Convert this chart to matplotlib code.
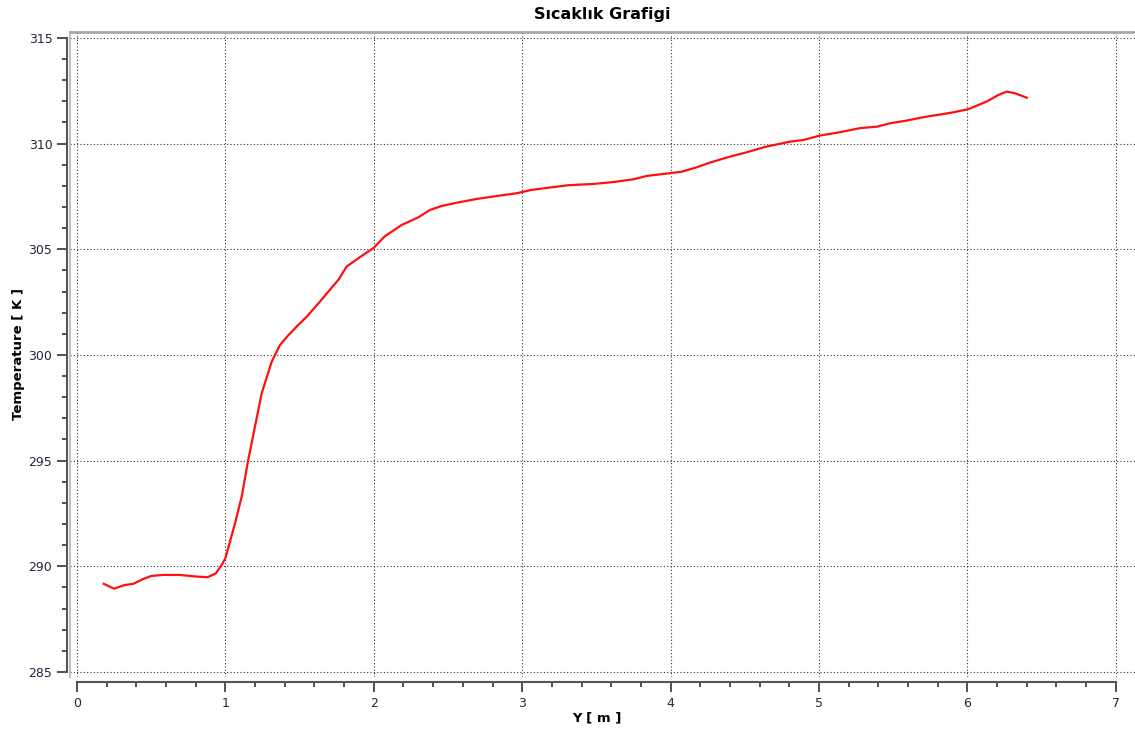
import matplotlib
matplotlib.use("Agg")
import matplotlib.pyplot as plt
from matplotlib.ticker import MultipleLocator

# values
y_pos = [0.18, 0.25, 0.32, 0.38, 0.44, 0.5, 0.58, 0.69, 0.81, 0.88,
         0.935, 0.975, 1.0, 1.065, 1.11, 1.154, 1.19, 1.245, 1.312, 1.368,
         1.42, 1.48, 1.548, 1.637, 1.70, 1.761, 1.817, 1.907, 2.0, 2.075,
         2.188, 2.3, 2.379, 2.458, 2.558, 2.693, 2.85, 2.963, 3.064, 3.165,
         3.31, 3.479, 3.614, 3.749, 3.839, 3.996, 4.075, 4.176, 4.265, 4.378,
         4.513, 4.647, 4.804, 4.894, 5.007, 5.142, 5.276, 5.389, 5.479, 5.591,
         5.703, 5.838, 5.905, 6.006, 6.13, 6.208, 6.265, 6.321, 6.4]
temps = [289.17, 288.94, 289.11, 289.17, 289.38, 289.54, 289.59, 289.59, 289.51, 289.48,
         289.66, 290.06, 290.38, 292.03, 293.3, 295.03, 296.29, 298.19, 299.68, 300.47,
         300.9, 301.34, 301.81, 302.52, 303.05, 303.55, 304.18, 304.63, 305.07, 305.62,
         306.15, 306.51, 306.86, 307.05, 307.2, 307.38, 307.54, 307.65, 307.81, 307.9,
         308.03, 308.09, 308.18, 308.31, 308.47, 308.6, 308.67, 308.88, 309.1, 309.34,
         309.59, 309.86, 310.09, 310.17, 310.38, 310.54, 310.73, 310.8, 310.96, 311.09,
         311.25, 311.4, 311.48, 311.63, 311.99, 312.3, 312.46, 312.38, 312.17]

title = "Sıcaklık Grafigi"
x_label = "Y [ m ]"
y_label = "Temperature [ K ]"

fig = plt.figure(figsize=(11.35, 7.31), dpi=100)
ax = fig.add_axes([70 / 1135, 1 - 677 / 731, 1065 / 1135, 645 / 731])

ax.plot(y_pos, temps, color="#ff1010", linewidth=1.6)

ax.set_xlim(-0.047, 7.129)
ax.set_ylim(284.76, 315.28)

ax.xaxis.set_major_locator(MultipleLocator(1))
ax.xaxis.set_minor_locator(MultipleLocator(0.2))
ax.yaxis.set_major_locator(MultipleLocator(5))
ax.yaxis.set_minor_locator(MultipleLocator(1))

ax.grid(True, which="major", linestyle=(0, (1, 2)), color="#333333", linewidth=0.8)

# separate axis lines like the original tool
ax.spines["left"].set_position(("outward", 2.2))
ax.spines["left"].set_bounds(285, 315)
ax.spines["left"].set_color("#555555")
ax.spines["left"].set_linewidth(1.5)
ax.spines["bottom"].set_position(("outward", 3.6))
ax.spines["bottom"].set_bounds(0, 7)
ax.spines["bottom"].set_color("#555555")
ax.spines["bottom"].set_linewidth(1.5)
ax.spines["right"].set_visible(False)
ax.spines["top"].set_color("#a8a8a8")
ax.spines["top"].set_linewidth(2)
ax.plot([0, 0], [0, 1], transform=ax.transAxes, color="#c0c0c0",
        linewidth=1.5, clip_on=False)

ax.tick_params(which="major", length=7, width=1.2, color="#333333",
               labelsize=9, labelcolor="#22283a")
ax.tick_params(axis="y", which="major", pad=3.5)
ax.tick_params(axis="x", which="major", pad=4)
ax.tick_params(which="minor", length=3.5, width=1.2, color="#333333")

ax.set_title(title, fontsize=11.5, fontweight="bold", pad=9)
ax.set_xlabel(x_label, fontsize=9.5, fontweight="bold")
ax.set_ylabel(y_label, fontsize=9.5, fontweight="bold")
ax.xaxis.set_label_coords(0.495, -0.053)
ax.yaxis.set_label_coords(-0.042, 0.5)

fig.savefig("out.png", dpi=100)
